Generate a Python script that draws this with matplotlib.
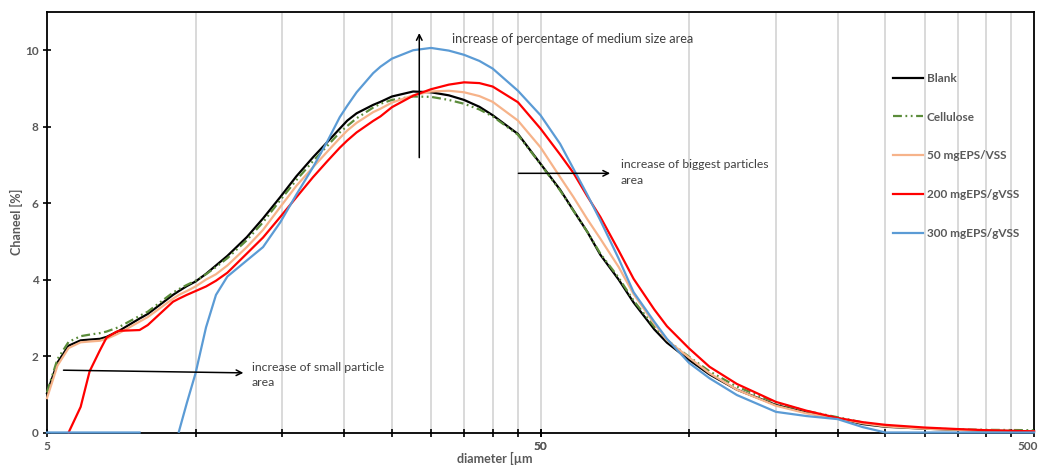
import numpy as np
import matplotlib
matplotlib.use("Agg")
import matplotlib.pyplot as plt
import matplotlib.transforms as mtransforms
from matplotlib.ticker import FixedLocator, NullLocator, NullFormatter

nan = np.nan

diameter = [5.0, 5.25, 5.53, 5.85, 6.1, 6.4, 6.6, 6.9, 7.0, 7.7, 8.0, 9.0, 9.25, 9.6,
            10, 10.5, 11, 11.6, 12.7, 13.7, 14.85, 16, 17.3, 18.5, 19.6, 20.3, 21.2,
            22.9, 23.7, 25, 27.6, 30, 32.6, 35, 37.6, 40, 45, 50, 54.8, 58.3, 62.2,
            66.1, 72, 77.2, 85, 90.2, 100, 110, 125, 150, 173, 200, 225, 250, 300,
            350, 400, 500]

blank = [1.03, 1.83, 2.27, 2.41, 2.43, 2.45, 2.5, 2.62, 2.66, 2.98, 3.1, 3.6, 3.7, 3.83,
         3.95, 4.15, 4.37, 4.62, 5.11, 5.6, 6.16, 6.7, 7.2, 7.6, 7.95, 8.16, 8.35,
         8.57, 8.65, 8.79, 8.92, 8.9, 8.82, 8.7, 8.52, 8.3, 7.81, 7.03, 6.35, 5.81, 5.25,
         4.65, 4.0, 3.4, 2.7, 2.35, 1.9, 1.52, 1.12, 0.72, 0.52, 0.37, 0.22, 0.15, 0.1,
         0.07, 0.05, 0.03]

cellulose = [1.05, 1.92, 2.37, 2.52, 2.56, 2.6, 2.64, 2.73, 2.76, 3.05, 3.16, 3.66, 3.75, 3.86,
             3.97, 4.14, 4.33, 4.56, 5.03, 5.5, 6.08, 6.6, 7.1, 7.5, 7.85, 8.02, 8.22,
             8.5, 8.6, 8.7, 8.79, 8.78, 8.7, 8.6, 8.45, 8.27, 7.79, 7.02, 6.33, 5.8, 5.25,
             4.68, 4.05, 3.45, 2.77, 2.42, 1.98, 1.6, 1.2, 0.78, 0.56, 0.4, 0.26, 0.17, 0.11,
             0.08, 0.07, 0.06]

eps50 = [0.9, 1.75, 2.21, 2.36, 2.38, 2.4, 2.45, 2.56, 2.6, 2.9, 3.02, 3.5, 3.6, 3.7,
         3.82, 4.0, 4.14, 4.37, 4.85, 5.3, 5.9, 6.45, 6.94, 7.35, 7.7, 7.9, 8.1,
         8.38, 8.47, 8.63, 8.82, 8.92, 8.94, 8.9, 8.8, 8.65, 8.16, 7.46, 6.68, 6.16, 5.58,
         5.07, 4.33, 3.62, 2.85, 2.42, 1.96, 1.55, 1.12, 0.7, 0.5, 0.37, 0.24, 0.16, 0.1,
         0.07, 0.05, 0.03]

eps200 = [nan, nan, 0.0, 0.67, 1.6, 2.15, 2.48, 2.63, 2.66, 2.68, 2.81, 3.42, 3.5, 3.6,
          3.7, 3.82, 3.97, 4.18, 4.68, 5.1, 5.64, 6.15, 6.68, 7.1, 7.45, 7.64, 7.85,
          8.15, 8.27, 8.51, 8.81, 8.98, 9.1, 9.16, 9.14, 9.05, 8.64, 7.95, 7.27, 6.79, 6.18,
          5.64, 4.76, 4.02, 3.22, 2.78, 2.2, 1.72, 1.27, 0.8, 0.57, 0.38, 0.27, 0.2, 0.13,
          0.09, 0.06, 0.03]

eps300 = [0, 0, 0, 0, 0, 0, 0, 0, 0, 0, nan, nan, 0.02, 0.77,
          1.55, 2.75, 3.6, 4.08, 4.5, 4.85, 5.5, 6.22, 6.94, 7.62, 8.25, 8.55, 8.9,
          9.4, 9.57, 9.78, 10.0, 10.06, 9.99, 9.88, 9.72, 9.52, 8.94, 8.3, 7.55, 6.9, 6.22,
          5.55, 4.55, 3.67, 2.9, 2.45, 1.82, 1.42, 0.98, 0.54, 0.43, 0.35, 0.14, 0.0, 0.0,
          0.0, 0.0, 0.0]

series_labels = ["Blank", "Cellulose", "50 mgEPS/VSS", "200 mgEPS/gVSS", "300 mgEPS/gVSS"]
grid_positions = [10, 15, 20, 25, 30, 35, 40, 45, 50, 100, 150, 200, 250, 300, 350, 400, 450]
xtick_values = [5, 50, 500]
xtick_labels = ["5", "50", "500"]
ytick_values = [0, 2, 4, 6, 8, 10]

plt.rcParams['font.family'] = ['Lato', 'DejaVu Sans']

fig = plt.figure(figsize=(10.4, 4.69), dpi=100)
ax = fig.add_axes([47/1040, 1-432.5/469, (1034-47)/1040, (432.5-12)/469])

gray = "#595959"
colors = ["#000000", "#5b8c3a", "#f6b38a", "#ff0000", "#5b9bd5"]
styles = [dict(), dict(dashes=(4, 1.6, 0.8, 1.6, 0.8, 1.6)), dict(), dict(), dict()]
data = [blank, cellulose, eps50, eps200, eps300]

for vals, lab, col, st in zip(data, series_labels, colors, styles):
    ax.plot(diameter, vals, color=col, lw=1.6, label=lab, clip_on=False, zorder=3,
            solid_joinstyle='round', **st)

ax.set_xscale('log')
ax.set_xlim(5, 500)
ax.set_ylim(0, 11)

for g in grid_positions:
    ax.axvline(g, color="#d3d3d3", lw=1.2, zorder=1)

all_ticks = xtick_values + grid_positions
ax.xaxis.set_major_locator(FixedLocator(all_ticks))
ax.xaxis.set_minor_locator(NullLocator())
ax.xaxis.set_minor_formatter(NullFormatter())
tick_text = dict(zip(xtick_values, xtick_labels))
ax.set_xticklabels([tick_text.get(v, "") for v in all_ticks])
ax.set_yticks(ytick_values)
ax.set_yticklabels([str(v) for v in ytick_values])

ax.tick_params(axis='both', direction='inout', length=6, width=1.2, color='black',
               labelsize=8.5, labelcolor=gray, pad=3)
for lbl in ax.get_xticklabels() + ax.get_yticklabels():
    lbl.set_fontweight('bold')
# keep the right-most label inside the picture
for lbl in ax.get_xticklabels():
    if lbl.get_text() == "500":
        lbl.set_transform(lbl.get_transform() +
                          mtransforms.ScaledTranslation(-6/100, 0, fig.dpi_scale_trans))

for s in ax.spines.values():
    s.set_linewidth(1.3)
    s.set_color('black')

ax.set_ylabel("Chaneel [%]", color=gray, fontsize=9, fontweight='bold')
ax.yaxis.set_label_coords(-0.0245, 0.5)
ax.set_xlabel("diameter [µm", color=gray, fontsize=9, fontweight='bold')
ax.xaxis.set_label_coords(0.454, -0.047)

leg = ax.legend(loc='upper left', bbox_to_anchor=((888-47)/987, (432.5-68)/420.5),
                frameon=False, fontsize=8.5, labelspacing=2.36, handlelength=2.6,
                handletextpad=0.3, borderaxespad=0)
for t in leg.get_texts():
    t.set_color(gray)
    t.set_fontweight('bold')

arrow = dict(arrowstyle='->', color='black', lw=1.1, shrinkA=0, shrinkB=0)
ax.annotate('', xy=(28.4, 10.45), xytext=(28.4, 7.19), arrowprops=arrow)
ax.annotate('', xy=(69.2, 6.78), xytext=(45.1, 6.78), arrowprops=arrow)
ax.annotate('', xy=(12.5, 1.56), xytext=(5.4, 1.63), arrowprops=arrow)

txt = dict(color="#404040", va='center', ha='left')
ax.text(33.1, 10.3, "increase of percentage of medium size area", fontsize=9.2, **txt)
ax.text(72.8, 6.8, "increase of biggest particles\narea", linespacing=1.5, fontsize=8.7, **txt)
ax.text(13.0, 1.5, "increase of small particle\narea", linespacing=1.5, fontsize=8.8, **txt)

fig.savefig("out.png", dpi=100)
